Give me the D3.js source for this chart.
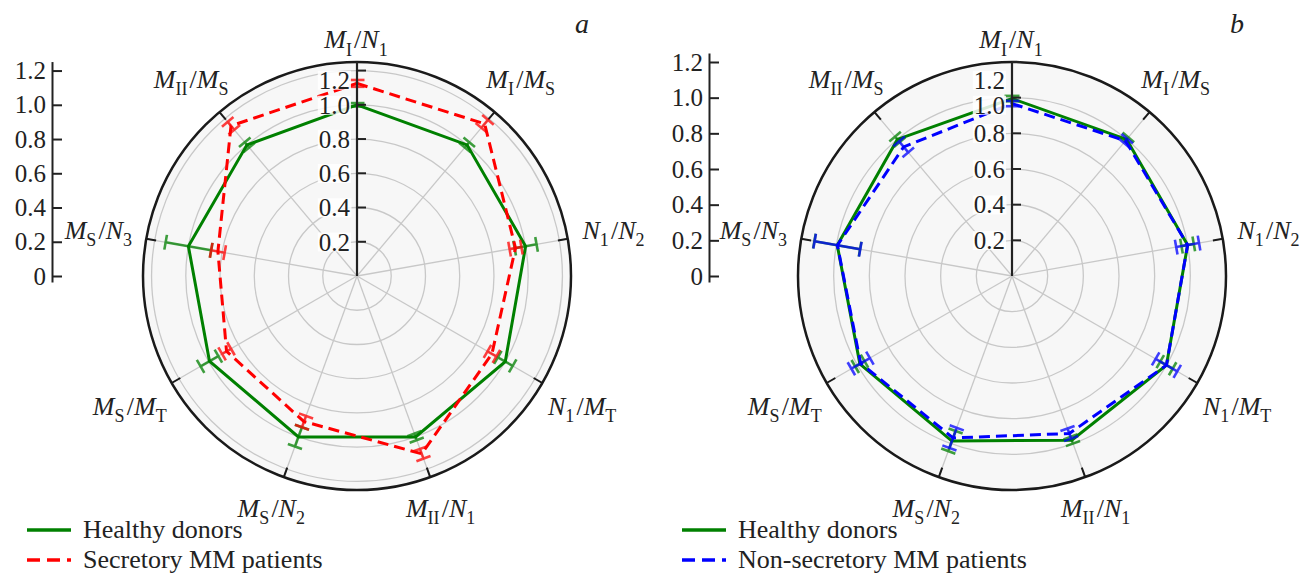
<!DOCTYPE html>
<html lang="en">
<head>
<meta charset="utf-8">
<title>Radar charts</title>
<script src="https://cdn.jsdelivr.net/npm/d3@7"></script>
<style>
  body { margin: 0; background: #fff; }
</style>
</head>
<body>
<script>
// spoke names, clockwise from the top; "_" marks a subscript
var categories = ["M_I/N_1", "M_I/M_S", "N_1/N_2", "N_1/M_T", "M_II/N_1", "M_S/N_2", "M_S/M_T", "M_S/N_3", "M_II/M_S"];
var radialTicks = [0.2, 0.4, 0.6, 0.8, 1.0, 1.2];
var leftTicks = [0, 0.2, 0.4, 0.6, 0.8, 1.0, 1.2];

// panel a
var healthyA     = [1.0, 1.0, 1.0, 1.0, 1.0, 1.0, 0.995, 1.0, 1.0];
var healthyAErr  = [0.01, 0.02, 0.065, 0.05, 0.02, 0.06, 0.06, 0.135, 0.02];
var secretory    = [1.125, 1.16, 0.94, 0.91, 1.105, 0.905, 0.88, 0.825, 1.145];
var secretoryErr = [0.02, 0.03, 0.035, 0.03, 0.03, 0.035, 0.03, 0.04, 0.03];

// panel b
var healthyB        = [0.995, 1.0, 1.0, 1.0, 0.98, 0.985, 0.985, 0.995, 1.0];
var healthyBErr     = [0.015, 0.015, 0.035, 0.04, 0.02, 0.06, 0.03, 0.13, 0.02];
var nonSecretory    = [0.967, 0.99, 1.0, 1.0, 0.94, 0.966, 0.98, 0.994, 0.945];
var nonSecretoryErr = [0.015, 0.015, 0.065, 0.07, 0.03, 0.06, 0.06, 0.13, 0.04];

var FONT = "'Liberation Serif', 'DejaVu Serif', serif";
var R = 214;
var svg = d3.select("body").append("svg")
    .attr("width", 1305)
    .attr("height", 574)
    .attr("font-family", FONT);

var panels = [
  { tag: "a", cx: 357, cy: 276, rmax: 1.25, axisX: 52, legendX: 27,
    series: [
      { name: "Healthy donors", values: healthyA, err: healthyAErr, color: "#008000", dash: null },
      { name: "Secretory MM patients", values: secretory, err: secretoryErr, color: "#ff0000", dash: "11,6" }
    ] },
  { tag: "b", cx: 1012, cy: 276, rmax: 1.2, axisX: 709, legendX: 682,
    series: [
      { name: "Healthy donors", values: healthyB, err: healthyBErr, color: "#008000", dash: null },
      { name: "Non-secretory MM patients", values: nonSecretory, err: nonSecretoryErr, color: "#0000ff", dash: "11,6" }
    ] }
];

// builds M_I/N_1 style text with italic letters and upright subscripts
function richLabel(sel, str, size) {
  var sub = Math.round(size * 0.7);
  str.split("/").forEach(function(p, k) {
    if (k > 0) sel.append("tspan").attr("font-size", size).text("/");
    var bits = p.split("_");
    sel.append("tspan").attr("font-size", size).attr("font-style", "italic").text(bits[0]);
    if (bits[1]) {
      sel.append("tspan").attr("font-size", sub).attr("dy", size * 0.3).text(bits[1]);
      sel.append("tspan").attr("font-size", size).attr("dy", -size * 0.3).text("\u200a");
    }
  });
}

function drawPanel(p) {
  var g = svg.append("g").attr("transform", "translate(" + p.cx + "," + p.cy + ")");
  var r = d3.scaleLinear().domain([0, p.rmax]).range([0, R]);
  var angle = d3.scaleLinear().domain([0, categories.length]).range([0, 2 * Math.PI]);

  g.append("circle").attr("r", R).attr("fill", "#f7f7f7");

  g.selectAll(".grid").data(radialTicks).enter().append("circle")
      .attr("class", "grid")
      .attr("r", function(d) { return r(d); })
      .attr("fill", "none")
      .attr("stroke", "#c8c8c8")
      .attr("stroke-width", 1.3);

  g.selectAll(".spoke").data(categories).enter().append("line")
      .attr("class", "spoke")
      .attr("x2", function(d, i) { return d3.pointRadial(angle(i), R)[0]; })
      .attr("y2", function(d, i) { return d3.pointRadial(angle(i), R)[1]; })
      .attr("stroke", "#c8c8c8")
      .attr("stroke-width", 1.3);

  g.append("circle").attr("r", R).attr("fill", "none").attr("stroke", "#1a1a1a").attr("stroke-width", 2.5);

  g.selectAll(".atick").data(categories).enter().append("line")
      .attr("x1", function(d, i) { return d3.pointRadial(angle(i), R - 10)[0]; })
      .attr("y1", function(d, i) { return d3.pointRadial(angle(i), R - 10)[1]; })
      .attr("x2", function(d, i) { return d3.pointRadial(angle(i), R)[0]; })
      .attr("y2", function(d, i) { return d3.pointRadial(angle(i), R)[1]; })
      .attr("stroke", "#1a1a1a")
      .attr("stroke-width", 2);

  var line = d3.lineRadial()
      .angle(function(d, i) { return angle(i); })
      .radius(function(d) { return r(d); })
      .curve(d3.curveLinearClosed);

  p.series.forEach(function(s) {
    g.append("path")
        .attr("d", line(s.values))
        .attr("fill", "none")
        .attr("stroke", s.color)
        .attr("stroke-width", 3)
        .attr("stroke-dasharray", s.dash);

    var eb = g.append("g").attr("stroke", s.color).attr("stroke-width", 2.6).attr("opacity", 0.75);
    s.values.forEach(function(v, i) {
      var a = angle(i);
      var lo = d3.pointRadial(a, r(v - s.err[i]));
      var hi = d3.pointRadial(a, r(v + s.err[i]));
      var px = Math.cos(a) * 7.5, py = Math.sin(a) * 7.5;
      eb.append("line").attr("x1", lo[0]).attr("y1", lo[1]).attr("x2", hi[0]).attr("y2", hi[1]);
      [lo, hi].forEach(function(q) {
        eb.append("line")
            .attr("x1", q[0] - px).attr("y1", q[1] - py)
            .attr("x2", q[0] + px).attr("y2", q[1] + py);
      });
    });
  });

  // radial axis along the top spoke
  g.append("line").attr("y2", -R).attr("stroke", "#222").attr("stroke-width", 2.2);
  g.selectAll(".rtick").data(radialTicks).enter().append("line")
      .attr("y1", function(d) { return -r(d); })
      .attr("y2", function(d) { return -r(d); })
      .attr("x2", 9)
      .attr("stroke", "#222")
      .attr("stroke-width", 2);

  // label heights, pushed down from the rim so they do not collide
  var labY = {}, prev = -Infinity;
  radialTicks.slice().reverse().forEach(function(t, k) {
    var y = Math.max(-r(t), k === 0 ? -R + 18 : prev + 25);
    labY[t] = y; prev = y;
  });

  var rl = g.selectAll(".rlab").data(radialTicks).enter().append("g");
  var rtext = rl.append("text")
      .attr("x", -7)
      .attr("y", function(d) { return labY[d]; })
      .attr("dy", "0.35em")
      .attr("text-anchor", "end")
      .attr("font-size", 25)
      .attr("fill", "#222")
      .text(function(d) { return d.toFixed(1); });
  rtext.each(function() {
    var b = this.getBBox();
    d3.select(this.parentNode).insert("rect", "text")
        .attr("x", b.x - 1).attr("y", b.y + 4)
        .attr("width", b.width + 2).attr("height", b.height - 8)
        .attr("fill", "#fff").attr("opacity", 0.85);
  });

  // spoke names
  categories.forEach(function(c, i) {
    var a = angle(i);
    var rr = 224 + 36 * Math.abs(Math.sin(a)) + 12 * Math.abs(Math.cos(a));
    var q = d3.pointRadial(a, rr);
    var t = g.append("text")
        .attr("x", q[0])
        .attr("y", q[1] + 8)
        .attr("text-anchor", "middle")
        .attr("font-size", 26)
        .attr("fill", "#222");
    richLabel(t, c, 26);
  });

  svg.append("text")
      .attr("x", p.cx + 218)
      .attr("y", 33)
      .attr("font-style", "italic")
      .attr("font-size", 28)
      .attr("fill", "#222")
      .text(p.tag);

  // left value axis
  var yLeft = d3.scaleLinear()
      .domain([r.invert(-6), r.invert(r(1.2) + 9)])
      .range([p.cy + 6, p.cy - r(1.2) - 9]);
  var ax = svg.append("g")
      .attr("transform", "translate(" + p.axisX + ",0)")
      .call(d3.axisLeft(yLeft)
        .tickValues(leftTicks)
        .tickSizeInner(-10)
        .tickSizeOuter(0)
        .tickPadding(6)
        .tickFormat(function(d) { return d === 0 ? "0" : d.toFixed(1); }));
  ax.attr("font-family", FONT).attr("font-size", 25);
  ax.select(".domain").attr("stroke", "#222").attr("stroke-width", 2);
  ax.selectAll(".tick line").attr("stroke", "#222").attr("stroke-width", 2);
  ax.selectAll(".tick text").attr("fill", "#222");

  // legend
  var lg = svg.append("g").attr("transform", "translate(" + p.legendX + ",530)");
  p.series.forEach(function(s, k) {
    lg.append("line")
        .attr("x1", 0).attr("x2", 44)
        .attr("y1", k * 30).attr("y2", k * 30)
        .attr("stroke", s.color)
        .attr("stroke-width", 3.5)
        .attr("stroke-dasharray", s.dash ? "13,7" : null);
    lg.append("text")
        .attr("x", 56)
        .attr("y", k * 30 + 8)
        .attr("font-size", 26)
        .attr("fill", "#222")
        .text(s.name);
  });
}

panels.forEach(drawPanel);
</script>
</body>
</html>
